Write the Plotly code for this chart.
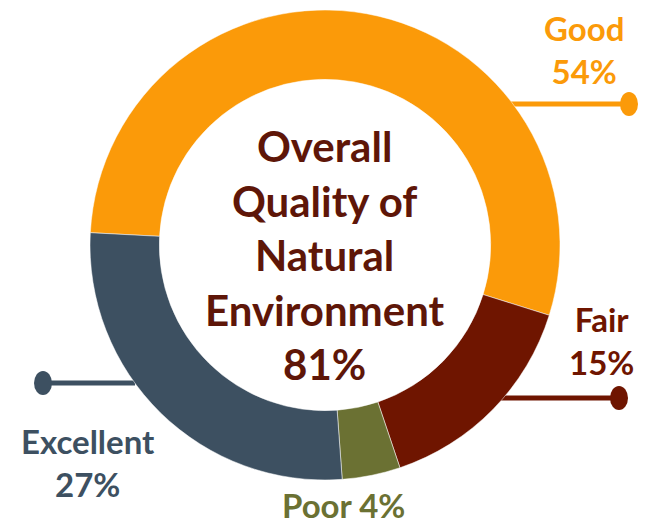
import plotly.graph_objects as go

categories = ["Good", "Fair", "Poor", "Excellent"]
values = [54, 15, 4, 27]
colors = ["#FB9A09", "#6F1500", "#6B7133", "#3D5061"]
center_title = "Overall<br>Quality of<br>Natural<br>Environment<br>81%"

W, H = 646, 527
FONT = "Lato"

def px(x):
    return x / W

def py(y):
    return 1 - y / H

fig = go.Figure(go.Pie(
    labels=categories, values=values, hole=0.705, sort=False,
    direction="clockwise", rotation=273,
    marker=dict(colors=colors, line=dict(color="white", width=0.5)),
    textinfo="none", hoverinfo="label+percent", showlegend=False,
    domain=dict(x=[px(89), px(561)], y=[py(480), py(10)]),
))

label_pos = {
    "Good": dict(x=584, y=49, two_lines=True, line=(505, 629, 104)),
    "Fair": dict(x=601, y=340, two_lines=True, line=(495, 619, 398)),
    "Excellent": dict(x=88, y=462, two_lines=True, line=(43, 135, 383)),
    "Poor": dict(x=343, y=505, two_lines=False, line=None),
}

annotations = []
shapes = []
for cat, val, col in zip(categories, values, colors):
    p = label_pos[cat]
    txt = f"{cat}<br>{val}%" if p["two_lines"] else f"{cat} {val}%"
    annotations.append(dict(
        x=px(p["x"]), y=py(p["y"]), xref="paper", yref="paper",
        text=f"<b>{txt}</b>", showarrow=False, xanchor="center", yanchor="middle",
        font=dict(family=FONT, size=33, color=col), align="center", borderpad=0,
    ))
    if p["line"]:
        x0, x1, ly = p["line"]
        shapes.append(dict(type="line", xref="paper", yref="paper",
                           x0=px(x0), x1=px(x1), y0=py(ly), y1=py(ly),
                           line=dict(color=col, width=5), layer="below"))
        dx = x1 if cat != "Excellent" else x0
        shapes.append(dict(type="circle", xref="paper", yref="paper",
                           x0=px(dx - 9), x1=px(dx + 9), y0=py(ly - 12), y1=py(ly + 12),
                           fillcolor=col, line=dict(color=col, width=0)))

annotations.append(dict(
    x=px(325), y=py(255), xref="paper", yref="paper",
    text=f"<b>{center_title}</b>", showarrow=False, xanchor="center", yanchor="middle",
    font=dict(family=FONT, size=42, color="#5E1608"), align="center",
))

fig.update_layout(
    width=W, height=H, margin=dict(l=0, r=0, t=0, b=0),
    paper_bgcolor="white", plot_bgcolor="white",
    annotations=annotations, shapes=shapes,
)

fig.write_html("out.html", config={"displayModeBar": False},
               post_script="document.body.style.margin='0';")
